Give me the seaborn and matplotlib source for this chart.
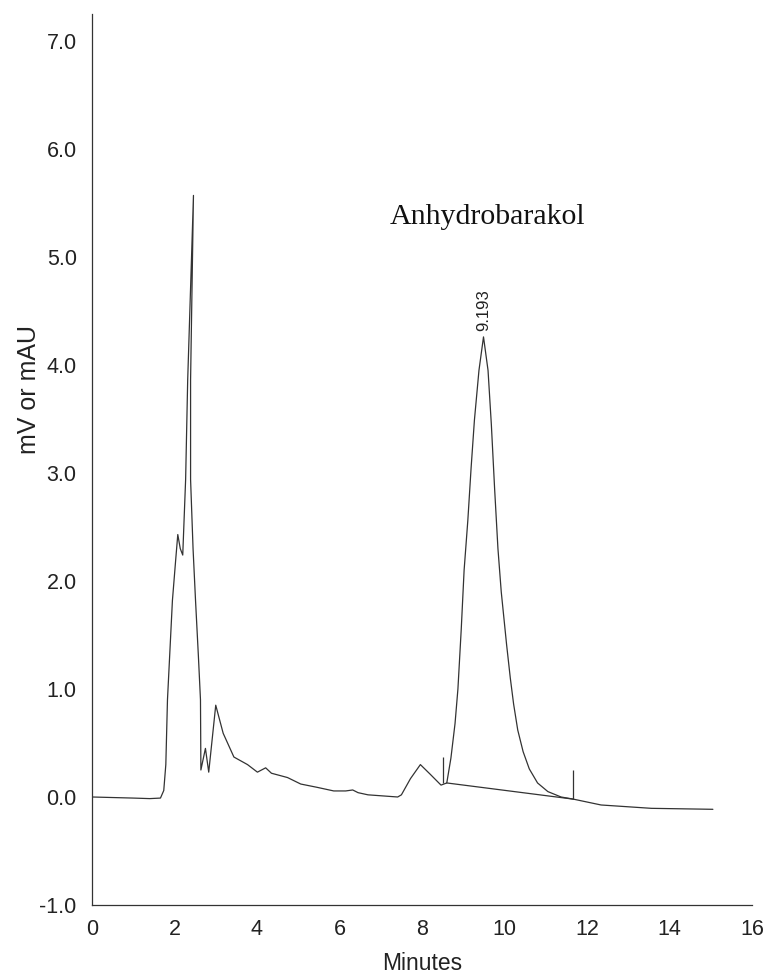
"""HPLC chromatogram of Anhydrobarakol (mV or mAU vs minutes)."""

import matplotlib
matplotlib.use("Agg")
import matplotlib.pyplot as plt
import pandas as pd
import seaborn as sns

# trace (minutes, signal)
minutes = [0.00, 0.50, 1.00, 1.40, 1.66, 1.74, 1.79, 1.83, 1.95, 2.03,
           2.08, 2.14, 2.20, 2.27, 2.32, 2.46, 2.39, 2.39, 2.45, 2.51,
           2.58, 2.63, 2.64, 2.75, 2.83, 3.00, 3.18, 3.44, 3.77, 4.01,
           4.21, 4.35, 4.74, 5.06, 5.45, 5.86, 6.15, 6.32, 6.45, 6.69,
           7.05, 7.41, 7.50, 7.72, 7.96, 8.20, 8.46, 8.60, 8.70, 8.80,
           8.87, 8.95, 9.02, 9.11, 9.19, 9.27, 9.38, 9.49, 9.60, 9.68,
           9.76, 9.84, 9.92, 10.05, 10.14, 10.22, 10.32, 10.45, 10.60, 10.80,
           11.05, 11.37, 11.67, 12.34, 13.56, 15.05]
signal = [0.00, -0.005, -0.01, -0.015, -0.01, 0.06, 0.30, 0.90, 1.82, 2.20,
          2.43, 2.30, 2.24, 2.94, 3.86, 5.57, 3.86, 2.94, 2.30, 1.82,
          1.30, 0.90, 0.25, 0.45, 0.23, 0.85, 0.59, 0.37, 0.30, 0.23,
          0.27, 0.22, 0.18, 0.12, 0.09, 0.056, 0.056, 0.065, 0.04, 0.02,
          0.01, 0.00, 0.02, 0.17, 0.30, 0.21, 0.11, 0.13, 0.36, 0.68,
          1.00, 1.55, 2.10, 2.56, 3.05, 3.49, 3.95, 4.26, 3.95, 3.45,
          2.85, 2.30, 1.90, 1.41, 1.10, 0.86, 0.62, 0.42, 0.26, 0.13,
          0.05, 0.00, -0.02, -0.074, -0.105, -0.114]

# integration baseline and its start/end markers
base_x = [8.60, 11.67]
base_y = [0.13, -0.02]
marker_x = [8.51, 11.67]
marker_lo = [0.13, -0.02]
marker_hi = [0.37, 0.25]

peak_rt = 9.49
peak_label = "9.193"
peak_height = 4.26
compound = "Anhydrobarakol"

x_ticks = [0, 2, 4, 6, 8, 10, 12, 14, 16]
y_ticks = [-1.0, 0.0, 1.0, 2.0, 3.0, 4.0, 5.0, 6.0, 7.0]

sns.set_style("white")
plt.rcParams["font.family"] = ["Liberation Sans", "DejaVu Sans"]

trace = pd.DataFrame({"Minutes": minutes, "signal": signal})

fig = plt.figure(figsize=(7.69, 9.77), dpi=100)
ax = fig.add_axes([0.1196, 0.0737, 0.8584, 0.9120])
line_col = "#333333"

sns.lineplot(data=trace, x="Minutes", y="signal", ax=ax, sort=False,
             estimator=None, color=line_col, lw=0.9)
ax.plot(base_x, base_y, color=line_col, lw=0.9)
ax.vlines(marker_x, marker_lo, marker_hi, color=line_col, lw=0.9)

ax.text(peak_rt, peak_height + 0.05, peak_label, rotation=90,
        ha="center", va="bottom", fontsize=12, color="#222222")
ax.text(7.22, 5.37, compound, family=["Liberation Serif", "DejaVu Serif"],
        fontsize=21.5, ha="left", va="center", color="#111111")

ax.set_xlim(0, 16)
ax.set_ylim(-1.0, 7.25)
ax.set_xticks(x_ticks)
ax.set_xticklabels([str(t) for t in x_ticks])
ax.set_yticks(y_ticks)
ax.set_yticklabels([f"{t:.1f}" for t in y_ticks])

for side in ("top", "right"):
    ax.spines[side].set_visible(False)
for side in ("left", "bottom"):
    ax.spines[side].set_color(line_col)
    ax.spines[side].set_linewidth(0.9)

ax.tick_params(axis="both", direction="out", length=5, width=0.9,
               color=line_col, labelsize=15.5, labelcolor="#222222")
ax.tick_params(axis="x", pad=5)
ax.tick_params(axis="y", pad=6)
ax.set_xlabel("Minutes", fontsize=16.5, labelpad=9, color="#222222")
ax.set_ylabel("mV or mAU", fontsize=18, color="#222222")
# label sits above the axes centre in the scan
ax.yaxis.set_label_coords(-0.077, 0.578)

fig.savefig("out.png", dpi=100)
plt.close(fig)
